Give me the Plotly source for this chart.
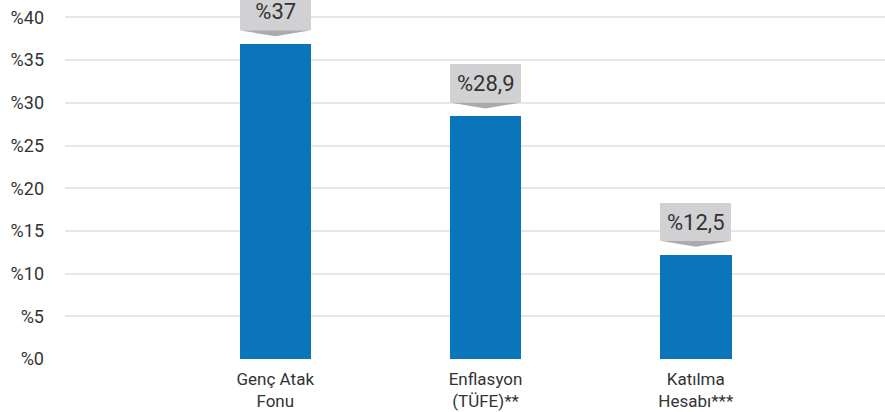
import plotly.graph_objects as go

categories = ["Genç Atak<br>Fonu", "Enflasyon<br>(TÜFE)**", "Katılma<br>Hesabı***"]
values = [36.85, 28.4, 12.2]
value_labels = ["%37", "%28,9", "%12,5"]
y_ticks = [0, 5, 10, 15, 20, 25, 30, 35, 40]
y_tick_labels = ["%" + str(v) for v in y_ticks]

BAR_COLOR = "#0b75bb"
BOX_COLOR = "#d1d1d3"
ARROW_COLOR = "#ababae"
TEXT_COLOR = "#333333"
FONT = "Roboto"
bar_w = 0.34

W, H = 885, 412
ML, MR, MT, MB = 65, 0, 0, 53
x_range = [-1.0, 2.9]
px_per_unit = (W - ML - MR) / (x_range[1] - x_range[0])
box_px = bar_w * px_per_unit

xs = list(range(len(categories)))

fig = go.Figure()
fig.add_trace(go.Bar(
    x=xs, y=values, width=bar_w, marker=dict(color=BAR_COLOR, line=dict(width=0)),
    hoverinfo="skip",
))

for xi, v, lab in zip(xs, values, value_labels):
    # arrow under the label box
    fig.add_shape(type="path", xref="x", yref="y", ysizemode="pixel", yanchor=v,
                  path=f"M {xi - bar_w / 2},14 L {xi + bar_w / 2},14 L {xi},8 Z",
                  fillcolor=ARROW_COLOR, line=dict(width=0), layer="above")
    # label box with text
    fig.add_annotation(x=xi, y=v, xref="x", yref="y", text=lab, showarrow=False,
                       xanchor="center", yanchor="bottom", yshift=14,
                       width=box_px, height=38, bgcolor=BOX_COLOR, borderpad=0,
                       borderwidth=0, align="center", valign="middle",
                       font=dict(family=FONT, size=22, color=TEXT_COLOR))

fig.update_layout(
    width=W, height=H,
    margin=dict(l=ML, r=MR, t=MT, b=MB),
    paper_bgcolor="white", plot_bgcolor="white",
    showlegend=False,
    font=dict(family=FONT, size=18, color=TEXT_COLOR),
    bargap=0,
)
fig.update_xaxes(
    tickmode="array", tickvals=xs, ticktext=categories,
    range=x_range, showgrid=False, zeroline=False, showline=False,
    ticks="", ticklabelstandoff=8, automargin=False,
    tickfont=dict(family=FONT, size=17, color=TEXT_COLOR),
)
fig.update_yaxes(
    tickmode="array", tickvals=y_ticks, ticktext=y_tick_labels,
    range=[0, 42.04], showgrid=True, gridcolor="#e6e6e6", gridwidth=1.5,
    zeroline=False, showline=False, ticks="", ticklabelstandoff=20,
    ticklabeloverflow="allow", automargin=False,
    tickfont=dict(family=FONT, size=18, color=TEXT_COLOR),
)

fig.write_html(
    "out.html",
    config={"displayModeBar": False},
    post_script="document.body.style.margin='0';document.body.style.overflow='hidden';",
)
